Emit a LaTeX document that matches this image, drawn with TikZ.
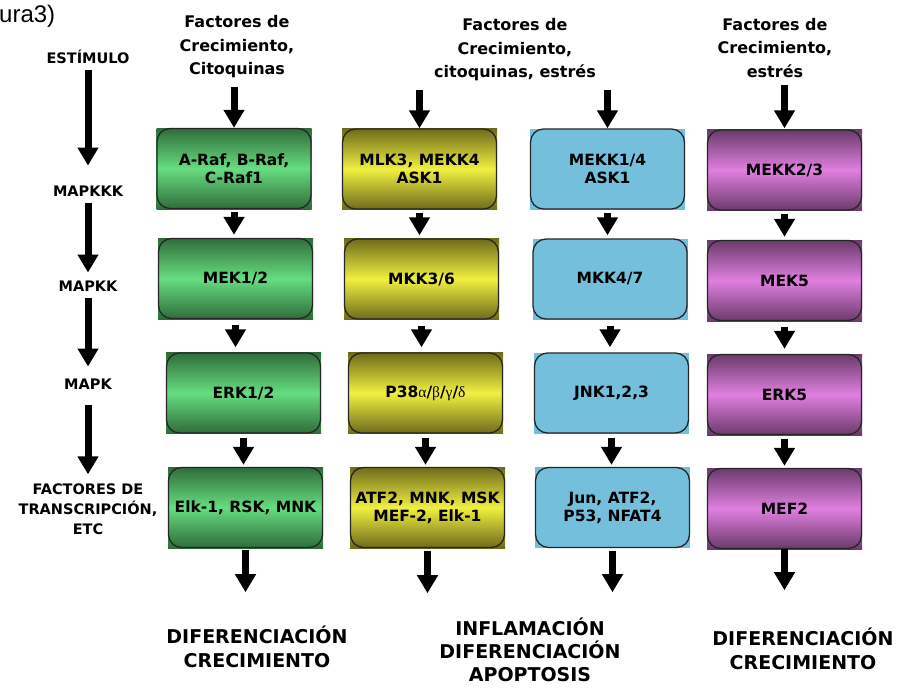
\documentclass[tikz,border=0pt]{standalone}
\usepackage{fontspec}
\setmainfont{DejaVu Sans}
\newfontfamily\grk{Liberation Serif}
\newfontfamily\arialf{Liberation Sans}
\usetikzlibrary{arrows.meta,calc}
\definecolor{gdk}{HTML}{2F6B3A}
\definecolor{glt}{HTML}{66DD80}
\definecolor{ydk}{HTML}{6E6A1A}
\definecolor{ylt}{HTML}{F0F040}
\definecolor{pdk}{HTML}{6A3A6A}
\definecolor{plt}{HTML}{E07FE0}
\definecolor{blu}{HTML}{74C0DC}
\tikzset{
  kbox/.style={rectangle, minimum width=155pt, minimum height=81pt, inner sep=0pt,
    align=center, font=\bfseries\fontsize{15.5}{18}\selectfont},
  gbox/.style={kbox, shading=axis, top color=gdk, bottom color=gdk, middle color=glt},
  ybox/.style={kbox, shading=axis, top color=ydk, bottom color=ydk, middle color=ylt},
  pbox/.style={kbox, shading=axis, top color=pdk, bottom color=pdk, middle color=plt},
  bbox/.style={kbox, fill=blu},
  boxborder/.style={draw=black!85, line width=1.3pt, rounded corners=13pt},
  leftlab/.style={inner sep=0pt, align=center, font=\bfseries\fontsize{14.5}{20}\selectfont},
  toplab/.style={inner sep=0pt, align=center, font=\bfseries\fontsize{16}{23.5}\selectfont},
  botlab/.style={inner sep=0pt, align=center, font=\bfseries\fontsize{19}{24}\selectfont},
  bigarrow/.style={line width=7pt, -{Triangle[length=18pt,width=20pt]}},
}
\begin{document}
\begin{tikzpicture}[x=1pt,y=-1pt]
\useasboundingbox[fill=white] (0,0) rectangle (900,688);
% caption fragment
\node[anchor=base west, inner sep=0pt, font=\arialf\fontsize{24}{24}\selectfont] (fig) at (-1,23) {ura3)};

% left labels
\node[leftlab] (est) at (88,57) {ESTÍMULO};
\node[leftlab] (mkkk) at (88,191) {MAPKKK};
\node[leftlab] (mkk) at (88,286) {MAPKK};
\node[leftlab] (mk) at (88,384) {MAPK};
\node[leftlab] (ftr) at (88,509) {FACTORES DE\\TRANSCRIPCIÓN,\\ETC};

% top labels
\node[toplab] (top1) at (237,47) {Factores de\\Crecimiento,\\Citoquinas};
\node[toplab] (top2) at (515,50) {Factores de\\Crecimiento,\\citoquinas, estrés};
\node[toplab] (top3) at (775,48) {Factores de\\Crecimiento,\\estrés};

% bottom labels
\node[botlab] (bot1) at (257,647) {DIFERENCIACIÓN\\CRECIMIENTO};
\node[botlab, font=\bfseries\fontsize{19}{23}\selectfont] (bot2) at (530,650) {INFLAMACIÓN\\DIFERENCIACIÓN\\APOPTOSIS};
\node[botlab] (bot3) at (803,649) {DIFERENCIACIÓN\\CRECIMIENTO};

% column 1 (green)
\node[gbox] (g1) at (234,168.5) {A-Raf, B-Raf,\\C-Raf1};
\node[gbox] (g2) at (235.5,278.5) {MEK1/2};
\node[gbox] (g3) at (243.5,393) {ERK1/2};
\node[gbox] (g4) at (245.5,507.5) {Elk-1, RSK, MNK};
% column 2 (yellow)
\node[ybox] (y1) at (419.5,169) {MLK3, MEKK4\\ASK1};
\node[ybox] (y2) at (421.5,279) {MKK3/6};
\node[ybox] (y3) at (425.5,393) {P38{\grk\mdseries α}/{\grk\mdseries β}/{\grk\mdseries γ}/{\grk\mdseries δ}};
\node[ybox] (y4) at (427.5,507.5) {ATF2, MNK, MSK\\MEF-2, Elk-1};
% column 3 (blue)
\node[bbox] (b1) at (607.5,169) {MEKK1/4\\ASK1};
\node[bbox] (b2) at (610,279) {MKK4/7};
\node[bbox] (b3) at (611.5,393) {JNK1,2,3};
\node[bbox] (b4) at (612.5,507.5) {Jun, ATF2,\\P53, NFAT4};
% column 4 (purple)
\node[pbox] (p1) at (784.5,170) {MEKK2/3};
\node[pbox] (p2) at (784.5,280.5) {MEK5};
\node[pbox] (p3) at (784.5,394.5) {ERK5};
\node[pbox] (p4) at (784.5,508.5) {MEF2};

% rounded borders of the boxes
\foreach \n in {g1,g2,g3,g4,y1,y2,y3,y4,b1,b2,b3,b4,p1,p2,p3,p4}{
  \draw[boxborder] ([shift={(0.7pt,-0.7pt)}]\n.north west) rectangle ([shift={(-0.7pt,0.7pt)}]\n.south east);
}

% left column arrows
\draw[bigarrow, shorten <=6pt, shorten >=20pt] (est.south) -- (est.south |- mkkk.north);
\draw[bigarrow, shorten <=7pt, shorten >=8pt] (mkkk.south) -- (mkkk.south |- mkk.north);
\draw[bigarrow, shorten <=7pt, shorten >=12pt] (mkk.south) -- (mkk.south |- mk.north);
\draw[bigarrow, shorten <=16pt, shorten >=9pt] (mk.south) -- (mk.south |- ftr.north);

% top arrows
\draw[bigarrow, shorten <=9pt] (top1.south -| g1.north) -- (g1.north);
\draw[bigarrow, shorten <=9pt] (top2.south -| y1.north) -- (y1.north);
\draw[bigarrow, shorten <=9pt] (top2.south -| b1.north) -- (b1.north);
\draw[bigarrow, shorten <=7pt, shorten >=1pt] (top3.south -| p1.north) -- (p1.north);

% between-box arrows
\foreach \c in {g,y,b,p}{
  \draw[bigarrow, shorten <=3pt, shorten >=3pt] (\c1.south) -- (\c1.south |- \c2.north);
  \draw[bigarrow, shorten <=6pt, shorten >=5pt] (\c2.south) -- (\c2.south |- \c3.north);
  \draw[bigarrow, shorten <=4pt, shorten >=2pt] (\c3.south) -- (\c3.south |- \c4.north);
}

% bottom arrows
\draw[bigarrow, shorten <=2pt] (g4.south) -- ($(g4.south)+(0,44)$) coordinate (e1);
\draw[bigarrow, shorten <=3pt] (y4.south) -- ($(y4.south)+(0,45)$) coordinate (e2);
\draw[bigarrow, shorten <=3pt] (b4.south) -- ($(b4.south)+(0,44)$) coordinate (e3);
\draw[bigarrow, shorten <=0pt] (p4.south) -- ($(p4.south)+(0,41)$) coordinate (e4);
\end{tikzpicture}
\end{document}
